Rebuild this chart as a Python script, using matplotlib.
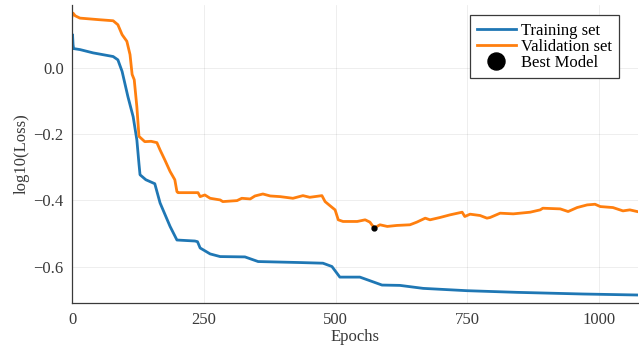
import numpy as np
import matplotlib as mpl
import matplotlib.pyplot as plt

mpl.rcParams.update({
    "font.family": ["Liberation Serif", "DejaVu Serif"],
    "font.size": 12,
    "axes.linewidth": 0.9,
    "xtick.direction": "in",
    "ytick.direction": "in",
})

# ---------------------------------------------------------------- data
train_epochs = [0, 1, 2, 3, 15, 40, 78, 87, 95, 106, 116, 123, 127, 129, 140,
                157, 167, 186, 199, 233, 238, 243, 262, 281, 328, 353, 432, 476,
                493, 508, 546, 588, 622, 666, 749, 844, 969, 1072]
train_loss = [0.06, 0.10, 0.07, 0.058, 0.055, 0.045, 0.034, 0.024, -0.011,
              -0.087, -0.148, -0.218, -0.29, -0.323, -0.338, -0.35, -0.408,
              -0.479, -0.52, -0.523, -0.525, -0.544, -0.562, -0.57, -0.571,
              -0.585, -0.588, -0.59, -0.60, -0.632, -0.632, -0.656, -0.657,
              -0.666, -0.673, -0.678, -0.683, -0.686]

val_epochs = [0, 2, 6, 15, 53, 78, 87, 95, 104, 110, 114, 118, 123, 127, 138,
              150, 161, 167, 176, 186, 195, 199, 201, 239, 243, 252, 262, 281,
              286, 313, 322, 338, 347, 362, 376, 395, 419, 438, 451, 474, 480,
              489, 499, 505, 514, 541, 556, 565, 571, 575, 584, 598, 616, 641,
              654, 670, 679, 698, 717, 740, 745, 755, 774, 787, 793, 812, 837,
              869, 888, 893, 926, 941, 958, 977, 992, 1002, 1026, 1045, 1058,
              1072]
val_loss = [0.155, 0.165, 0.157, 0.150, 0.145, 0.142, 0.13, 0.10, 0.08, 0.04,
            -0.02, -0.036, -0.118, -0.207, -0.223, -0.222, -0.226, -0.248,
            -0.278, -0.313, -0.338, -0.374, -0.377, -0.377, -0.389, -0.384,
            -0.394, -0.399, -0.404, -0.401, -0.394, -0.396, -0.387, -0.381,
            -0.387, -0.389, -0.394, -0.386, -0.391, -0.386, -0.404, -0.416,
            -0.429, -0.459, -0.464, -0.464, -0.459, -0.466, -0.479, -0.482,
            -0.474, -0.479, -0.476, -0.474, -0.466, -0.454, -0.459, -0.452,
            -0.444, -0.436, -0.449, -0.442, -0.446, -0.454, -0.452, -0.439,
            -0.441, -0.436, -0.429, -0.424, -0.426, -0.434, -0.422, -0.414,
            -0.412, -0.419, -0.422, -0.432, -0.429, -0.434]

best_epoch = 573
best_loss = -0.485

# ---------------------------------------------------------------- figure
fig = plt.figure(figsize=(6.39, 3.47), dpi=100)
ax = fig.add_axes([0.1127, 0.126, 0.8853, 0.86])

ax.plot(train_epochs, train_loss, color="#1f77b4", lw=2.0, label="Training set")
ax.plot(val_epochs, val_loss, color="#ff7f0e", lw=2.0, label="Validation set")
ax.plot([best_epoch], [best_loss], "o", color="black", ms=3.5, ls="none",
        label="Best Model")

ax.set_xlim(0, 1073)
ax.set_ylim(-0.711, 0.19)
ax.set_xticks([0, 250, 500, 750, 1000])
ax.set_yticks([-0.6, -0.4, -0.2, 0.0])
ax.set_yticklabels(["\u22120.6", "\u22120.4", "\u22120.2", "0.0"])
ax.grid(True, color="#000000", alpha=0.08, lw=0.6)
ax.tick_params(length=0, colors="#3a3a3a", labelsize=12, pad=6)
for s in ("top", "right"):
    ax.spines[s].set_visible(False)
for s in ("left", "bottom"):
    ax.spines[s].set_color("#3a3a3a")

ax.set_xlabel("Epochs", color="#3a3a3a", fontsize=12, labelpad=1)
ax.set_ylabel("log10(Loss)", color="#3a3a3a", fontsize=12, labelpad=3)

leg = ax.legend(loc="upper right", bbox_to_anchor=(0.967, 0.966),
                borderaxespad=0.0,
                fancybox=False, edgecolor="#3a3a3a", framealpha=1,
                fontsize=12, handlelength=2.3, handletextpad=0.3,
                borderpad=0.45, labelspacing=0.0, markerscale=3.5)
leg.get_frame().set_linewidth(0.9)

fig.savefig("out.png", dpi=100)
